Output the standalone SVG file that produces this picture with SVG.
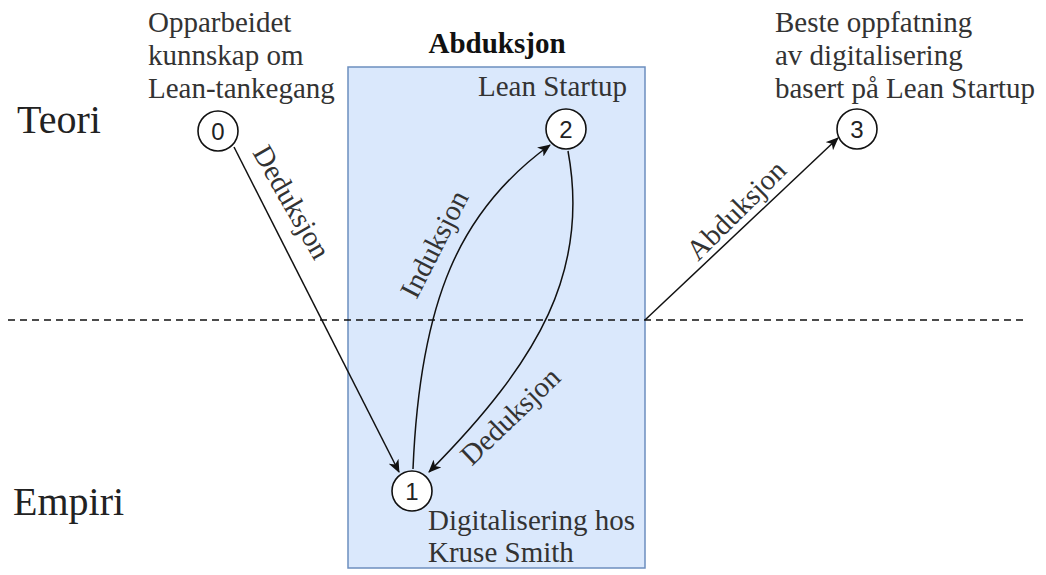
<svg xmlns="http://www.w3.org/2000/svg" width="1046" height="575" viewBox="0 0 1046 575">
  <style>
    .lbl { font-family: "Liberation Serif", "Times New Roman", serif; font-size: 29px; fill: #333333; }
    .big { font-family: "Liberation Serif", "Times New Roman", serif; font-size: 40px; fill: #222222; }
    .num { font-family: "Liberation Sans", Arial, sans-serif; font-size: 24px; fill: #222222; text-anchor: middle; dominant-baseline: central; }
    .node { fill: #ffffff; stroke: #111111; stroke-width: 1.6; }
    .edge { fill: none; stroke: #111111; stroke-width: 1.5; }
  </style>
  <defs>
    <marker id="arrow" viewBox="0 0 13 11" refX="12" refY="5.5" markerWidth="13" markerHeight="11" markerUnits="userSpaceOnUse" orient="auto">
      <path d="M0 0 L13 5.5 L0 11 L3.5 5.5 Z" fill="#111111"/>
    </marker>
  </defs>

  <rect width="1046" height="575" fill="#ffffff"/>

  <!-- level labels -->
  <text class="big" x="17" y="133">Teori</text>
  <text class="big" x="13" y="515">Empiri</text>

  <!-- abduction frame -->
  <g id="abduksjon">
    <rect x="348" y="67" width="297" height="501" fill="#dae8fc" stroke="#6c8ebf" stroke-width="1.5"/>
    <text class="lbl" x="497" y="53" text-anchor="middle" font-weight="bold" style="fill:#111111">Abduksjon</text>
  </g>

  <!-- boundary between theory and empirics -->
  <line x1="8" y1="320" x2="1024" y2="320" stroke="#111111" stroke-width="1.5" stroke-dasharray="7 5"/>

  <g id="connectors">
    <path class="edge" d="M234 147 L399 472" marker-end="url(#arrow)"/>
    <path class="edge" d="M413 469 C420 300, 460 210, 550 145" marker-end="url(#arrow)"/>
    <path class="edge" d="M568 151 C590 270, 540 360, 429 472" marker-end="url(#arrow)"/>
    <path class="edge" d="M645 320 L838 138" marker-end="url(#arrow)"/>
    <text class="lbl" transform="translate(292 202) rotate(60)" text-anchor="middle" dominant-baseline="central">Deduksjon</text>
    <text class="lbl" transform="translate(434 244) rotate(-63)" text-anchor="middle" dominant-baseline="central">Induksjon</text>
    <text class="lbl" transform="translate(510 416) rotate(-44)" text-anchor="middle" dominant-baseline="central">Deduksjon</text>
    <text class="lbl" transform="translate(736 210) rotate(-45)" text-anchor="middle" dominant-baseline="central">Abduksjon</text>
  </g>

  <g id="node0">
    <circle class="node" cx="218" cy="131" r="20"/>
    <text class="num" x="218" y="131">0</text>
    <text class="lbl" x="148" y="32">Opparbeidet</text>
    <text class="lbl" x="148" y="65">kunnskap om</text>
    <text class="lbl" x="148" y="98">Lean-tankegang</text>
  </g>

  <g id="node1">
    <circle class="node" cx="412" cy="491" r="20"/>
    <text class="num" x="412" y="491">1</text>
    <text class="lbl" x="428" y="530">Digitalisering hos</text>
    <text class="lbl" x="428" y="562">Kruse Smith</text>
  </g>

  <g id="node2">
    <circle class="node" cx="566" cy="129" r="20"/>
    <text class="num" x="566" y="129">2</text>
    <text class="lbl" x="478" y="96">Lean Startup</text>
  </g>

  <g id="node3">
    <circle class="node" cx="857" cy="129" r="20"/>
    <text class="num" x="857" y="129">3</text>
    <text class="lbl" x="775" y="32">Beste oppfatning</text>
    <text class="lbl" x="775" y="65">av digitalisering</text>
    <text class="lbl" x="775" y="98">basert på Lean Startup</text>
  </g>
</svg>
